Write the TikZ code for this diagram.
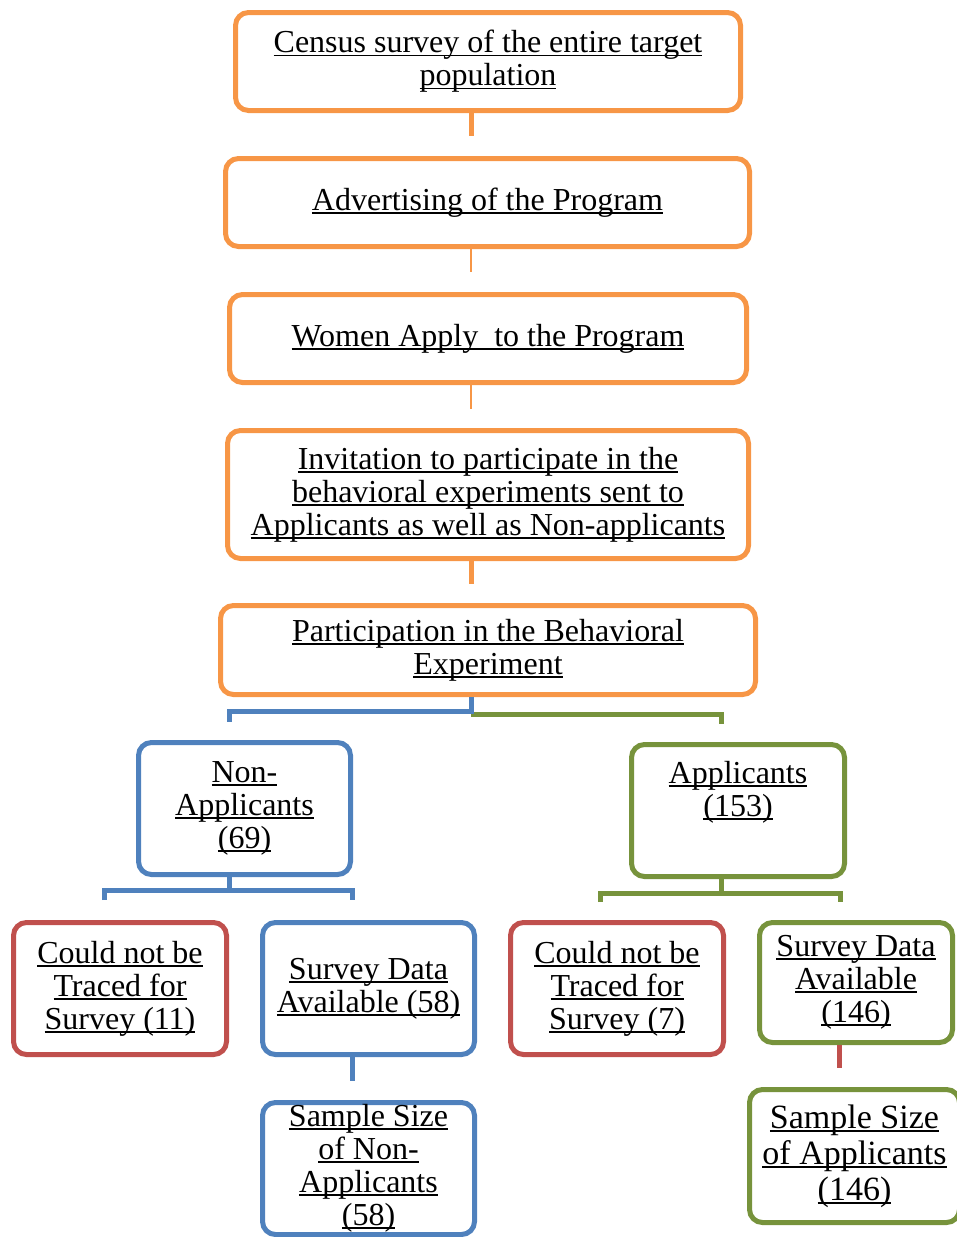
\documentclass[tikz,border=0pt]{standalone}
\usepackage{fontspec}
\setmainfont{Liberation Serif}
\definecolor{cOr}{HTML}{F79646}
\definecolor{cBl}{HTML}{4F81BD}
\definecolor{cGr}{HTML}{77933C}
\definecolor{cRd}{HTML}{C0504D}
\newcommand\ul[1]{{\setbox0\hbox{#1}\rlap{\rule[-3.6pt]{\wd0}{1.9pt}}\box0}}
\begin{document}
\begin{tikzpicture}[x=1pt,y=-1pt,
  box/.style={draw, line width=5pt, rounded corners=13pt, align=center, inner sep=0pt,
    font=\fontsize{32}{33}\selectfont, text=black},
  obox/.style={box, draw=cOr},
  bbox/.style={box, draw=cBl},
  gbox/.style={box, draw=cGr},
  rbox/.style={box, draw=cRd},
  thick/.style={line width=5pt},
  thin/.style={line width=2pt}]
\useasboundingbox (0,0) rectangle (956,1237);

% top chain
\node[obox, minimum width=505pt, minimum height=98pt] (census) at (488,61.5)
  {\ul{Census survey of the entire target}\\\ul{population}};
\node[obox, minimum width=524pt, minimum height=88pt] (advert) at (487.5,202.5)
  {\ul{Advertising of the Program}};
\node[obox, minimum width=517pt, minimum height=88pt] (apply) at (488,338.5)
  {\ul{Women Apply\ \ to the Program}};
\node[obox, minimum width=521pt, minimum height=128pt] (invite) at (488,494.5)
  {\ul{Invitation to participate in the}\\\ul{behavioral experiments sent to}\\\ul{Applicants as well as Non-applicants}};
\node[obox, minimum width=535pt, minimum height=89pt] (part) at (488,650)
  {\ul{Participation in the Behavioral}\\\ul{Experiment}};

% second level
\node[bbox, minimum width=212pt, minimum height=132pt] (nonapp) at (244.5,808.5)
  {\ul{Non-}\\\ul{Applicants}\\\ul{(69)}};
\node[gbox, minimum width=213pt, minimum height=132pt] (app) at (738,810.5)
  {\ul{Applicants}\\\ul{(153)}\\\strut};

% third level
\node[rbox, minimum width=213pt, minimum height=132pt] (cnbL) at (120,988.5)
  {\ul{Could not be}\\\ul{Traced for}\\\ul{Survey (11)}};
\node[bbox, minimum width=212pt, minimum height=132pt] (sdL) at (368.5,988.5)
  {\ul{Survey Data}\\\ul{Available (58)}};
\node[rbox, minimum width=213pt, minimum height=132pt] (cnbR) at (617,988.5)
  {\ul{Could not be}\\\ul{Traced for}\\\ul{Survey (7)}};
\node[gbox, minimum width=193pt, minimum height=120pt] (sdR) at (856,982.5)
  {\ul{Survey Data}\\\ul{Available}\\\ul{(146)}};

% fourth level
\node[bbox, minimum width=212pt, minimum height=132pt] (ssL) at (368.5,1168.5)
  {\ul{Sample Size}\\\ul{of Non-}\\\ul{Applicants}\\\ul{(58)}};
\node[gbox, minimum width=210pt, minimum height=133pt, font=\fontsize{34}{36}\selectfont] (ssR) at (854.5,1156)
  {\ul{Sample Size}\\\ul{of Applicants}\\\ul{(146)}};

% coordinates for connectors
\coordinate (c1a) at (471,113);  \coordinate (c1b) at (471,136);
\coordinate (c2a) at (471,249);  \coordinate (c2b) at (471,272);
\coordinate (c3a) at (471,385);  \coordinate (c3b) at (471,409);
\coordinate (c4a) at (471,561);  \coordinate (c4b) at (471,584);
\coordinate (p0) at (471,697);
\coordinate (pB) at (229,722);
\coordinate (pG0) at (471,714);
\coordinate (pG) at (721,724);
\coordinate (n0) at (229,877);
\coordinate (nL) at (104,900);
\coordinate (nR) at (352,900);
\coordinate (a0) at (721,879);
\coordinate (aL) at (600,902);
\coordinate (aR) at (840,902);
\coordinate (s0) at (352,1057); \coordinate (s1) at (352,1081);
\coordinate (r0) at (839,1045); \coordinate (r1) at (839,1068);

% connectors
\draw[cOr, thick] (c1a) -- (c1b);
\draw[cOr, thin] (c2a) -- (c2b);
\draw[cOr, thin] (c3a) -- (c3b);
\draw[cOr, thick] (c4a) -- (c4b);
\draw[cGr, thick] (pG0) -| (pG);
\draw[cBl, thick] (p0) -- ++(0,14) -| (pB);
\draw[cBl, thick] (n0) -- ++(0,13);
\draw[cBl, thick] (nL) |- (nR |- 0,890) -- (nR);
\draw[cGr, thick] (a0) -- ++(0,14);
\draw[cGr, thick] (aL) |- (aR |- 0,893) -- (aR);
\draw[cBl, thick] (s0) -- (s1);
\draw[cRd, thick] (r0) -- (r1);
\end{tikzpicture}
\end{document}
